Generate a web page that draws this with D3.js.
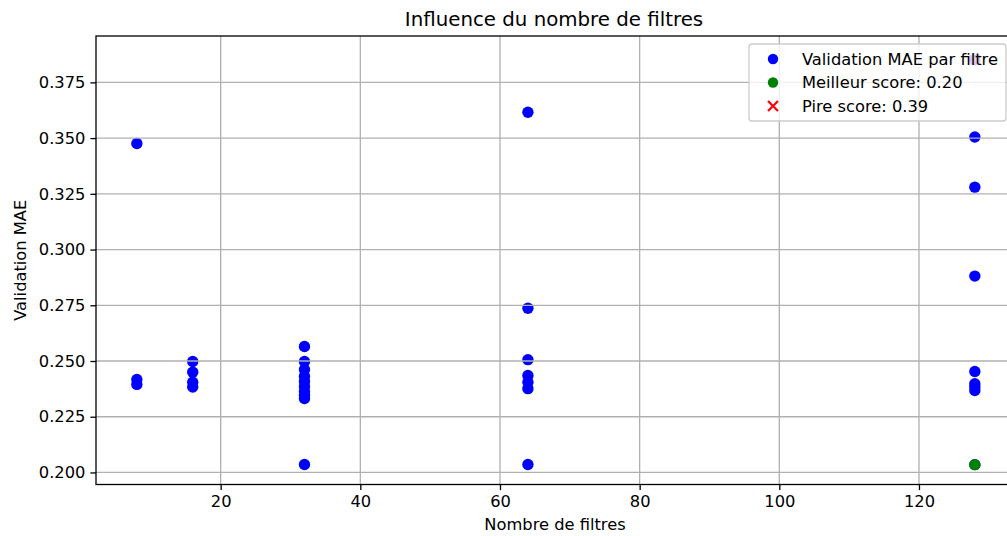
<!DOCTYPE html>
<html><head><meta charset="utf-8">
<script src="https://cdn.jsdelivr.net/npm/d3@7"></script>
<style>
html,body{margin:0;padding:0;background:#fff;}
text{font-family:"DejaVu Sans",sans-serif;fill:#000;}
</style></head>
<body>
<svg id="chart" width="1007" height="536"></svg>
<script>
// ---- data ----
const filters = [8,8,8, 16,16,16,16, 32,32,32,32,32,32,32,32,32,32, 64,64,64,64,64,64,64, 128,128,128,128,128,128,128,128,128];
const maeValues = [0.3476,0.2417,0.2395,
  0.2498,0.2450,0.2405,0.2383,
  0.2565,0.2498,0.2462,0.2431,0.2408,0.2386,0.2363,0.2346,0.2332,0.2036,
  0.3616,0.2737,0.2506,0.2435,0.2405,0.2376,0.2036,
  0.3852,0.3505,0.3280,0.2881,0.2453,0.2398,0.2383,0.2368,0.2035];
const bestPoint = [128, 0.2035];
const worstPoint = [128, 0.3852];
const xTicks = [20,40,60,80,100,120];
const yTicks = [0.200,0.225,0.250,0.275,0.300,0.325,0.350,0.375];
const legendLabels = ["Validation MAE par filtre","Meilleur score: 0.20","Pire score: 0.39"];

// ---- layout ----
const svg = d3.select("#chart");
const L = 96, T = 36, R = 1018, B = 484.5;
const x = d3.scaleLinear().domain([2.148,134.18]).range([L,R]);
const y = d3.scaleLinear().domain([0.1946,0.3958]).range([B,T]);

svg.append("defs").append("clipPath").attr("id","clip")
  .append("rect").attr("x",L).attr("y",T).attr("width",R-L).attr("height",B-T);

const plot = svg.append("g").attr("clip-path","url(#clip)");

// points (below grid, like matplotlib default zorder)
plot.selectAll("circle.pt").data(filters.map((f,i)=>[f,maeValues[i]])).enter()
  .append("circle").attr("class","pt")
  .attr("cx",d=>x(d[0])).attr("cy",d=>y(d[1])).attr("r",5.7).attr("fill","#0000ff");
plot.append("circle").attr("cx",x(bestPoint[0])).attr("cy",y(bestPoint[1])).attr("r",5.7).attr("fill","#008000");
const wx = x(worstPoint[0]), wy = y(worstPoint[1]), ws = 4.8;
plot.append("path").attr("d",`M${wx-ws},${wy-ws}L${wx+ws},${wy+ws}M${wx-ws},${wy+ws}L${wx+ws},${wy-ws}`)
  .attr("stroke","#ff0000").attr("stroke-width",1.8);

// grid
const grid = svg.append("g").attr("clip-path","url(#clip)");
grid.selectAll("line.gx").data(xTicks).enter().append("line")
  .attr("x1",d=>x(d)).attr("x2",d=>x(d)).attr("y1",T).attr("y2",B)
  .attr("stroke","#b0b0b0").attr("stroke-width",1.3);
grid.selectAll("line.gy").data(yTicks).enter().append("line")
  .attr("y1",d=>y(d)).attr("y2",d=>y(d)).attr("x1",L).attr("x2",R)
  .attr("stroke","#b0b0b0").attr("stroke-width",1.3);

// axes
const xAxis = d3.axisBottom(x).tickValues(xTicks).tickFormat(d3.format("d")).tickSize(5.6).tickPadding(5);
const yAxis = d3.axisLeft(y).tickValues(yTicks).tickFormat(d3.format(".3f")).tickSize(5.6).tickPadding(5);
const gx = svg.append("g").attr("transform",`translate(0,${B})`).call(xAxis);
const gy = svg.append("g").attr("transform",`translate(${L},0)`).call(yAxis);
[gx,gy].forEach(g=>{
  g.select(".domain").remove();
  g.selectAll(".tick line").attr("stroke","#000").attr("stroke-width",1.3);
  g.selectAll(".tick text").attr("font-size",16.3).attr("font-family","DejaVu Sans").attr("fill","#000");
});
// spines
svg.append("rect").attr("x",L).attr("y",T).attr("width",R-L).attr("height",B-T)
  .attr("fill","none").attr("stroke","#000").attr("stroke-width",1.3);

// title & labels
svg.append("text").attr("x",554).attr("y",26).attr("text-anchor","middle")
  .attr("font-size",19.8).text("Influence du nombre de filtres");
svg.append("text").attr("x",555).attr("y",530).attr("text-anchor","middle")
  .attr("font-size",16.3).text("Nombre de filtres");
svg.append("text").attr("transform",`translate(26,${(T+B)/2}) rotate(-90)`).attr("text-anchor","middle")
  .attr("font-size",16.3).text("Validation MAE");

// legend
const lg = svg.append("g");
lg.append("rect").attr("x",749).attr("y",44).attr("width",257).attr("height",77).attr("rx",3)
  .attr("fill","#fff").attr("fill-opacity",0.8).attr("stroke","#cccccc").attr("stroke-width",1.3);
const rows = [59, 82.5, 106];
lg.append("circle").attr("cx",773).attr("cy",rows[0]).attr("r",5.2).attr("fill","#0000ff");
lg.append("circle").attr("cx",773).attr("cy",rows[1]).attr("r",5.2).attr("fill","#008000");
const ls = 5;
lg.append("path").attr("d",`M${773-ls},${rows[2]-ls}L${773+ls},${rows[2]+ls}M${773-ls},${rows[2]+ls}L${773+ls},${rows[2]-ls}`)
  .attr("stroke","#ff0000").attr("stroke-width",2.2);
lg.selectAll("text.lt").data(legendLabels).enter().append("text").attr("class","lt")
  .attr("x",802).attr("y",(d,i)=>rows[i]).attr("dy","0.36em").attr("font-size",16.3).text(d=>d);
</script>
</body></html>
